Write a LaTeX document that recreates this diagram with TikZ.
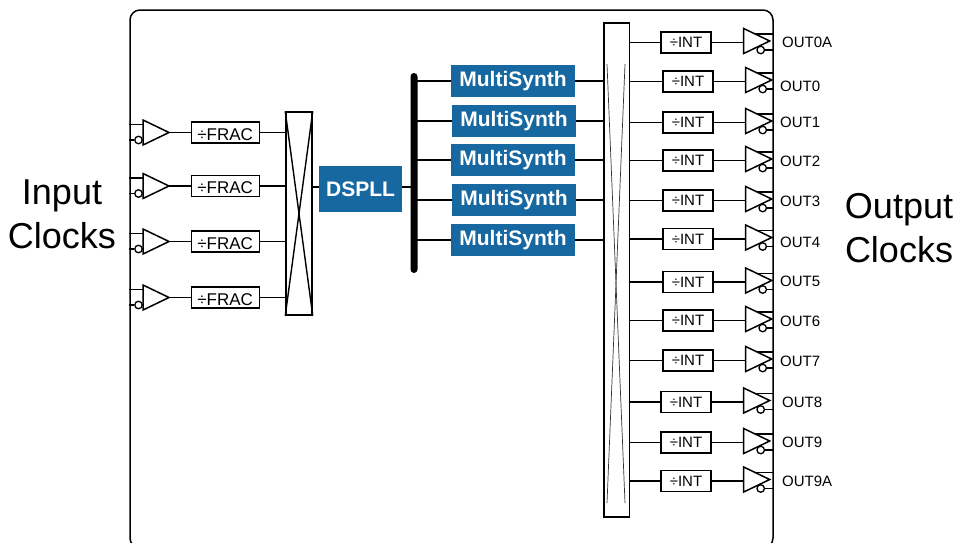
\documentclass[tikz,border=0pt]{standalone}
\usepackage{fontspec}
\setmainfont{Liberation Sans}
\usepackage{xcolor}
\usepackage{tikz}
\usetikzlibrary{positioning,shapes.geometric}
\definecolor{synthblue}{RGB}{23,104,160}

\begin{document}
\begin{tikzpicture}[
    x=1pt, y=-1pt,
    wire/.style={line width=1.4pt, color=black},
    thinwire/.style={line width=0.7pt, color=black!80},
    buffer/.style={
      isosceles triangle, isosceles triangle apex angle=55, isosceles triangle stretches,
      draw=black, line width=1.5pt, fill=white, inner sep=0pt, outer sep=0pt,
      minimum width=25pt, minimum height=26pt
    },
    bufin/.style={buffer, anchor=west},
    bufout/.style={buffer, yshift=1.5pt},
    bubble/.style={circle, draw=black, line width=1.3pt, fill=white, inner sep=0pt, minimum size=7.5pt},
    divbox/.style={
      rectangle, draw=black, line width=1.4pt, fill=white, inner sep=0pt,
      minimum height=21pt
    },
    fracbox/.style={divbox, minimum width=68pt, text height=15pt, text depth=0pt, font=\fontsize{17}{20}\selectfont},
    intbox/.style={divbox, minimum width=50pt, font=\fontsize{15}{18}\selectfont},
    muxbox/.style={rectangle, draw=black, line width=1.5pt, fill=white, inner sep=0pt},
    synth/.style={
      rectangle, fill=synthblue, text=white, inner sep=0pt, text depth=3.5pt,
      minimum height=32pt, minimum width=124pt, font=\fontsize{21}{24}\selectfont\bfseries
    },
    outlabel/.style={anchor=west, inner sep=0pt, font=\fontsize{15}{18}\selectfont},
    bigtext/.style={align=center, inner sep=0pt, font=\fontsize{36}{44}\selectfont}
  ]
  \useasboundingbox (0,0) rectangle (957,542);

  % Chip outline, cut by the bottom edge
  \node[rectangle, rounded corners=10pt, draw=black, line width=1.5pt, inner sep=0pt,
    minimum width=643pt, minimum height=538pt] (chip) at (451.5,279) {};

  % Side labels
  \node[bigtext] (inputs) at (62,214) {Input\\Clocks};
  \node[bigtext] (outputs) at (899,228) {Output\\Clocks};

  % Input buffers
  \node[bufin] (bufin1) at (143,132.5) {};
  \node[bufin] (bufin2) at (143,186) {};
  \node[bufin] (bufin3) at (143,241.5) {};
  \node[bufin] (bufin4) at (143,297.5) {};
  \node[bubble] (bubin1) at (138.5,140) {};
  \node[bubble] (bubin2) at (138.5,193.5) {};
  \node[bubble] (bubin3) at (138.5,249) {};
  \node[bubble] (bubin4) at (138.5,305) {};

  % Input dividers
  \node[fracbox, right=21.5pt of bufin1] (frac1) {÷FRAC};
  \node[fracbox, right=21.5pt of bufin2] (frac2) {÷FRAC};
  \node[fracbox, right=21.5pt of bufin3] (frac3) {÷FRAC};
  \node[fracbox, right=21.5pt of bufin4] (frac4) {÷FRAC};

  % Input crosspoint
  \node[muxbox, minimum width=26pt, minimum height=203pt] (muxin) at (299,213.5) {};
  \draw[wire] (muxin.north west) -- (muxin.south east);
  \draw[wire] (muxin.north east) -- (muxin.south west);

  % PLL and bus
  \node[rectangle, fill=synthblue, text=white, inner sep=0pt, minimum width=83pt, minimum height=46pt,
    font=\fontsize{21}{24}\selectfont\bfseries] (dspll) at (360.5,189) {DSPLL};
  \node[rectangle, fill=black, rounded corners=3.5pt, inner sep=0pt,
    minimum width=7pt, minimum height=200pt] (bus) at (414,173) {};
  \coordinate (tapdsp) at (360,187);

  % MultiSynth column
  \node[synth] (synth1) at (513,81) {MultiSynth};
  \node[synth] (synth2) at (514,121) {MultiSynth};
  \node[synth] (synth3) at (513,160) {MultiSynth};
  \node[synth] (synth4) at (514,200) {MultiSynth};
  \node[synth] (synth5) at (513,240) {MultiSynth};

  % Output crosspoint
  \node[muxbox, minimum width=25.5pt, minimum height=494pt] (muxout) at (616.5,270) {};
  \coordinate (crossa) at (607,64);
  \coordinate (crossb) at (625,64);
  \coordinate (crossc) at (607,503);
  \coordinate (crossd) at (625,503);
  \draw[thinwire] (crossa) -- (crossd);
  \draw[thinwire] (crossb) -- (crossc);

  % Output dividers
  \node[intbox] (int0a) at (686,42.5) {÷INT};
  \node[intbox] (int0) at (688,81.5) {÷INT};
  \node[intbox] (int1) at (688,122.5) {÷INT};
  \node[intbox] (int2) at (688,160.5) {÷INT};
  \node[intbox] (int3) at (688,200.5) {÷INT};
  \node[intbox] (int4) at (688,239) {÷INT};
  \node[intbox] (int5) at (688,282) {÷INT};
  \node[intbox] (int6) at (688,320.5) {÷INT};
  \node[intbox] (int7) at (688,360.5) {÷INT};
  \node[intbox] (int8) at (686,402) {÷INT};
  \node[intbox] (int9) at (686,442.5) {÷INT};
  \node[intbox] (int9a) at (686,481) {÷INT};

  % Output labels
  \node[outlabel] (out0a) at (782,42) {OUT0A};
  \node[outlabel] (out0) at (780,86) {OUT0};
  \node[outlabel] (out1) at (780,122) {OUT1};
  \node[outlabel] (out2) at (780,161) {OUT2};
  \node[outlabel] (out3) at (780,201) {OUT3};
  \node[outlabel] (out4) at (780,242) {OUT4};
  \node[outlabel] (out5) at (780,281) {OUT5};
  \node[outlabel] (out6) at (780,321) {OUT6};
  \node[outlabel] (out7) at (780,361) {OUT7};
  \node[outlabel] (out8) at (782,402) {OUT8};
  \node[outlabel] (out9) at (782,442) {OUT9};
  \node[outlabel] (out9a) at (782,481) {OUT9A};

  % Output buffers
  \node[bufout, right=32pt of int0a] (bufout0a) {};
  \node[bufout, right=32pt of int0] (bufout0) {};
  \node[bufout, right=32pt of int1] (bufout1) {};
  \node[bufout, right=32pt of int2] (bufout2) {};
  \node[bufout, right=32pt of int3] (bufout3) {};
  \node[bufout, right=32pt of int4] (bufout4) {};
  \node[bufout, right=32pt of int5] (bufout5) {};
  \node[bufout, right=32pt of int6] (bufout6) {};
  \node[bufout, right=32pt of int7] (bufout7) {};
  \node[bufout, right=32pt of int8] (bufout8) {};
  \node[bufout, right=32pt of int9] (bufout9) {};
  \node[bufout, right=32pt of int9a] (bufout9a) {};

  % Input wires
  \coordinate (tapin1) at ([yshift=8pt]bufin1.west);
  \coordinate (tapin2) at ([yshift=8pt]bufin2.west);
  \coordinate (tapin3) at ([yshift=8pt]bufin3.west);
  \coordinate (tapin4) at ([yshift=8pt]bufin4.west);
  \draw[wire] (tapin1 -| chip.west) -- (tapin1);
  \draw[wire] (tapin2 -| chip.west) -- (tapin2);
  \draw[wire] (tapin3 -| chip.west) -- (tapin3);
  \draw[wire] (tapin4 -| chip.west) -- (tapin4);
  \draw[wire] (bubin1 -| chip.west) -- (bubin1.west);
  \draw[wire] (bubin2 -| chip.west) -- (bubin2.west);
  \draw[wire] (bubin3 -| chip.west) -- (bubin3.west);
  \draw[wire] (bubin4 -| chip.west) -- (bubin4.west);
  \draw[wire] (bufin1) -- (frac1);
  \draw[wire] (bufin2) -- (frac2);
  \draw[wire] (bufin3) -- (frac3);
  \draw[wire] (bufin4) -- (frac4);
  \draw[wire] (frac1) -- (frac1 -| muxin.west);
  \draw[wire] (frac2) -- (frac2 -| muxin.west);
  \draw[wire] (frac3) -- (frac3 -| muxin.west);
  \draw[wire] (frac4) -- (frac4 -| muxin.west);

  % Centre wires
  \draw[wire] (tapdsp -| muxin.east) -- (tapdsp -| dspll.west);
  \draw[wire] (tapdsp -| dspll.east) -- (tapdsp -| bus.center);
  \draw[wire] (synth1 -| bus.center) -- (synth1);
  \draw[wire] (synth2 -| bus.center) -- (synth2);
  \draw[wire] (synth3 -| bus.center) -- (synth3);
  \draw[wire] (synth4 -| bus.center) -- (synth4);
  \draw[wire] (synth5 -| bus.center) -- (synth5);
  \draw[wire] (synth1) -- (synth1 -| muxout.west);
  \draw[wire] (synth2) -- (synth2 -| muxout.west);
  \draw[wire] (synth3) -- (synth3 -| muxout.west);
  \draw[wire] (synth4) -- (synth4 -| muxout.west);
  \draw[wire] (synth5) -- (synth5 -| muxout.west);

  % Output wires, mux to buffer
  \draw[wire] (int0a -| muxout.east) -- (int0a);
  \draw[wire] (int0 -| muxout.east) -- (int0);
  \draw[wire] (int1 -| muxout.east) -- (int1);
  \draw[wire] (int2 -| muxout.east) -- (int2);
  \draw[wire] (int3 -| muxout.east) -- (int3);
  \draw[wire] (int4 -| muxout.east) -- (int4);
  \draw[wire] (int5 -| muxout.east) -- (int5);
  \draw[wire] (int6 -| muxout.east) -- (int6);
  \draw[wire] (int7 -| muxout.east) -- (int7);
  \draw[wire] (int8 -| muxout.east) -- (int8);
  \draw[wire] (int9 -| muxout.east) -- (int9);
  \draw[wire] (int9a -| muxout.east) -- (int9a);
  \draw[wire] (int0a) -- (int0a -| bufout0a.west);
  \draw[wire] (int0) -- (int0 -| bufout0.west);
  \draw[wire] (int1) -- (int1 -| bufout1.west);
  \draw[wire] (int2) -- (int2 -| bufout2.west);
  \draw[wire] (int3) -- (int3 -| bufout3.west);
  \draw[wire] (int4) -- (int4 -| bufout4.west);
  \draw[wire] (int5) -- (int5 -| bufout5.west);
  \draw[wire] (int6) -- (int6 -| bufout6.west);
  \draw[wire] (int7) -- (int7 -| bufout7.west);
  \draw[wire] (int8) -- (int8 -| bufout8.west);
  \draw[wire] (int9) -- (int9 -| bufout9.west);
  \draw[wire] (int9a) -- (int9a -| bufout9a.west);

  % Output wires, buffer to chip edge
  \coordinate (tap0a) at ([shift={(11.5pt,7pt)}]bufout0a.west);
  \coordinate (tap0) at ([shift={(11.5pt,7pt)}]bufout0.west);
  \coordinate (tap1) at ([shift={(11.5pt,7pt)}]bufout1.west);
  \coordinate (tap2) at ([shift={(11.5pt,7pt)}]bufout2.west);
  \coordinate (tap3) at ([shift={(11.5pt,7pt)}]bufout3.west);
  \coordinate (tap4) at ([shift={(11.5pt,7pt)}]bufout4.west);
  \coordinate (tap5) at ([shift={(11.5pt,7pt)}]bufout5.west);
  \coordinate (tap6) at ([shift={(11.5pt,7pt)}]bufout6.west);
  \coordinate (tap7) at ([shift={(11.5pt,7pt)}]bufout7.west);
  \coordinate (tap8) at ([shift={(11.5pt,7pt)}]bufout8.west);
  \coordinate (tap9) at ([shift={(11.5pt,7pt)}]bufout9.west);
  \coordinate (tap9a) at ([shift={(11.5pt,7pt)}]bufout9a.west);
  \draw[wire] (tap0a) -- (tap0a -| chip.east);
  \draw[wire] (tap0) -- (tap0 -| chip.east);
  \draw[wire] (tap1) -- (tap1 -| chip.east);
  \draw[wire] (tap2) -- (tap2 -| chip.east);
  \draw[wire] (tap3) -- (tap3 -| chip.east);
  \draw[wire] (tap4) -- (tap4 -| chip.east);
  \draw[wire] (tap5) -- (tap5 -| chip.east);
  \draw[wire] (tap6) -- (tap6 -| chip.east);
  \draw[wire] (tap7) -- (tap7 -| chip.east);
  \draw[wire] (tap8) -- (tap8 -| chip.east);
  \draw[wire] (tap9) -- (tap9 -| chip.east);
  \draw[wire] (tap9a) -- (tap9a -| chip.east);

  % Output bubbles
  \node[bubble] (bubout0a) at ([shift={(17pt,-9pt)}]bufout0a.west) {};
  \node[bubble] (bubout0) at ([shift={(17pt,-9pt)}]bufout0.west) {};
  \node[bubble] (bubout1) at ([shift={(17pt,-9pt)}]bufout1.west) {};
  \node[bubble] (bubout2) at ([shift={(17pt,-9pt)}]bufout2.west) {};
  \node[bubble] (bubout3) at ([shift={(17pt,-9pt)}]bufout3.west) {};
  \node[bubble] (bubout4) at ([shift={(17pt,-9pt)}]bufout4.west) {};
  \node[bubble] (bubout5) at ([shift={(17pt,-9pt)}]bufout5.west) {};
  \node[bubble] (bubout6) at ([shift={(17pt,-9pt)}]bufout6.west) {};
  \node[bubble] (bubout7) at ([shift={(17pt,-9pt)}]bufout7.west) {};
  \node[bubble] (bubout8) at ([shift={(17pt,-9pt)}]bufout8.west) {};
  \node[bubble] (bubout9) at ([shift={(17pt,-9pt)}]bufout9.west) {};
  \node[bubble] (bubout9a) at ([shift={(17pt,-9pt)}]bufout9a.west) {};
  \draw[wire] (bubout0a.east) -- (bubout0a -| chip.east);
  \draw[wire] (bubout0.east) -- (bubout0 -| chip.east);
  \draw[wire] (bubout1.east) -- (bubout1 -| chip.east);
  \draw[wire] (bubout2.east) -- (bubout2 -| chip.east);
  \draw[wire] (bubout3.east) -- (bubout3 -| chip.east);
  \draw[wire] (bubout4.east) -- (bubout4 -| chip.east);
  \draw[wire] (bubout5.east) -- (bubout5 -| chip.east);
  \draw[wire] (bubout6.east) -- (bubout6 -| chip.east);
  \draw[wire] (bubout7.east) -- (bubout7 -| chip.east);
  \draw[wire] (bubout8.east) -- (bubout8 -| chip.east);
  \draw[wire] (bubout9.east) -- (bubout9 -| chip.east);
  \draw[wire] (bubout9a.east) -- (bubout9a -| chip.east);
\end{tikzpicture}
\end{document}
